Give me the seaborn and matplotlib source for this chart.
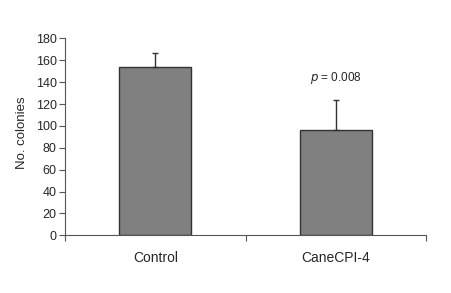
import numpy as np
import pandas as pd
import seaborn as sns
import matplotlib.pyplot as plt
from matplotlib.ticker import FixedLocator

groups = ["Control", "CaneCPI-4"]
colonies = [153.5, 96.5]
sem = [13.5, 27]

sns.set_theme(style="white")
plt.rcParams['font.family'] = ['Liberation Sans', 'DejaVu Sans']

df = pd.DataFrame({"group": groups, "colonies": colonies})

fig = plt.figure(figsize=(4.52, 2.93), dpi=100)
ax = fig.add_axes([0.1438, 0.197, 0.7987, 0.672])
sns.barplot(data=df, x="group", y="colonies", color="#808080", width=0.4,
            edgecolor="#333333", linewidth=1.0, saturation=1, ax=ax)
ax.errorbar(range(len(groups)), colonies, yerr=[np.zeros(len(sem)), sem],
            fmt="none", ecolor="#333333", elinewidth=1.0, capsize=2.5, capthick=1.0)

ax.set_xlim(-0.5, 1.5)
ax.set_ylim(0, 180)
ax.set_yticks(np.arange(0, 181, 20))
ax.xaxis.set_minor_locator(FixedLocator([-0.5, 0.5, 1.5]))
ax.tick_params(axis="x", which="major", length=0, labelsize=10, pad=11)
ax.tick_params(axis="x", which="minor", length=4, width=0.8, color="#555555", direction="out", bottom=True)
ax.tick_params(axis="y", length=4, width=0.8, color="#555555", direction="out", left=True, labelsize=9, pad=2)
sns.despine(ax=ax)
for s in ["left", "bottom"]:
    ax.spines[s].set_color("#555555")
    ax.spines[s].set_linewidth(0.8)

ax.set_xlabel("")
ax.set_ylabel("No. colonies", fontsize=9.5)
ax.yaxis.set_label_coords(-0.102, 0.52)
ax.text(1, 144, r"$p$ = 0.008", ha="center", va="center", fontsize=8.5)

fig.savefig("out.png", dpi=100)
